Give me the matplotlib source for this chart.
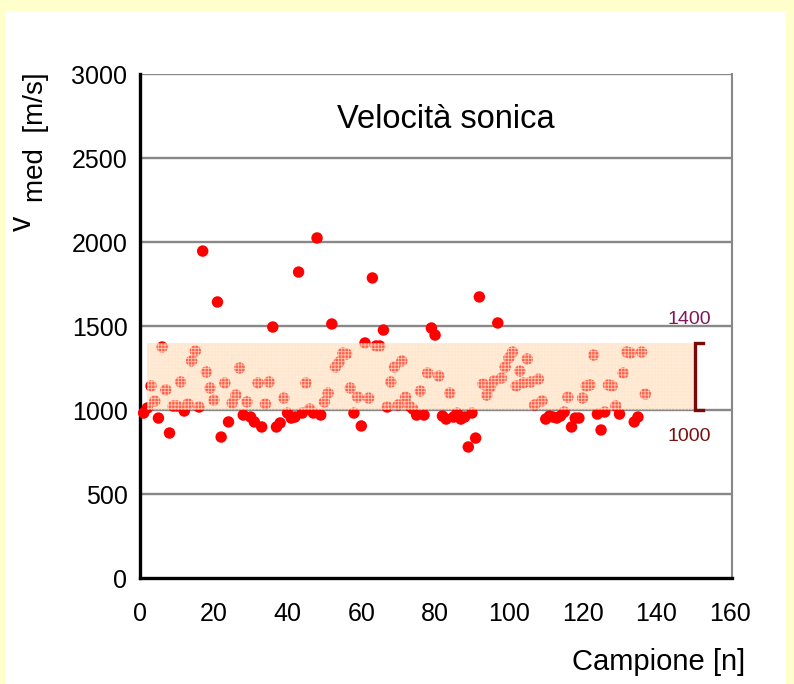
import numpy as np
import matplotlib
matplotlib.use("Agg")
import matplotlib.pyplot as plt
from matplotlib.patches import Rectangle

plt.rcParams.update({
    "font.family": ["Liberation Sans", "DejaVu Sans"],
    "hatch.linewidth": 0.6,
})

# velocita' media per campione [m/s]
campione = np.arange(1, 138)
v_med = [
    982, 1012, 1143, 1053, 952, 1375, 1120, 863, 1024, 1024,
    1167, 994, 1036, 1292, 1351, 1018, 1946, 1226, 1131, 1059,
    1643, 839, 1161, 929, 1042, 1089, 1250, 970, 1048, 958,
    929, 1161, 899, 1036, 1167, 1494, 899, 923, 1071, 982,
    952, 958, 1821, 982, 1161, 1006, 982, 2024, 970, 1048,
    1101, 1512, 1256, 1286, 1339, 1333, 1131, 982, 1077, 905,
    1399, 1071, 1786, 1381, 1381, 1476, 1018, 1167, 1256, 1030,
    1292, 1077, 1024, 1006, 970, 1113, 970, 1220, 1488, 1446,
    1202, 964, 946, 1101, 958, 982, 946, 958, 780, 982,
    833, 1673, 1155, 1089, 1137, 1173, 1518, 1190, 1256, 1310,
    1345, 1143, 1232, 1161, 1304, 1167, 1030, 1184, 1054, 946,
    964, 958, 952, 964, 988, 1077, 899, 952, 952, 1071,
    1143, 1149, 1327, 976, 881, 988, 1149, 1143, 1024, 976,
    1220, 1345, 1339, 929, 958, 1345, 1095,
]

# fascia di riferimento
banda_min, banda_max = 1000, 1400
banda_x0, banda_x1 = 2, 150.4

x_ticks = [0, 20, 40, 60, 80, 100, 120, 140, 160]
y_ticks = [0, 500, 1000, 1500, 2000, 2500, 3000]

fig = plt.figure(figsize=(7.94, 6.84), dpi=100)
fig.patch.set_facecolor("#FFFFCC")
fig.patches.append(Rectangle((5 / 794, 0), 781 / 794, 1 - 11 / 684,
                             transform=fig.transFigure, facecolor="white",
                             edgecolor="none", zorder=-10))

ax = fig.add_axes([140 / 794, 1 - 578 / 684, 592 / 794, 504 / 684])
ax.set_facecolor("white")

for y in y_ticks[1:]:
    ax.axhline(y, color="#888888", lw=1.7, zorder=1)

ax.scatter(campione, v_med, s=68, color="#FF0000", edgecolors="none",
           zorder=3, clip_on=False)

# fascia 1000-1400 sopra i punti, retinata
w = banda_x1 - banda_x0
h = banda_max - banda_min
ax.add_patch(Rectangle((banda_x0, banda_min), w, h, facecolor="#FFD4AA",
                       edgecolor="none", alpha=0.45, zorder=4))
ax.add_patch(Rectangle((banda_x0, banda_min), w, h, facecolor="none",
                       edgecolor="#FFE6CC", hatch="+++++", lw=0,
                       alpha=0.8, zorder=4))

# parentesi della fascia
bx, bt = 150.4, 152.6
ax.plot([bt, bx, bx, bt], [banda_max, banda_max, banda_min, banda_min],
        color="#7A0A0A", lw=2.4, solid_joinstyle="miter", zorder=5,
        clip_on=False)
ax.text(149, 1540, "1400", color="#80185A", fontsize=14,
        ha="center", va="center")
ax.text(149, 840, "1000", color="#7A1010", fontsize=14,
        ha="center", va="center")

ax.text(83, 2732, "Velocità sonica", fontsize=23.5, ha="center", va="center")

ax.set_xlim(0, 160.5)
ax.set_ylim(0, 3000)
ax.set_xticks(x_ticks)
ax.set_yticks(y_ticks)
ax.tick_params(length=0, labelsize=18)
ax.tick_params(axis="x", pad=17)
ax.tick_params(axis="y", pad=9)

ax.spines["left"].set_color("black")
ax.spines["left"].set_linewidth(2.4)
ax.spines["bottom"].set_color("black")
ax.spines["bottom"].set_linewidth(2.4)
ax.spines["right"].set_color("#888888")
ax.spines["right"].set_linewidth(1.5)
ax.spines["top"].set_visible(False)

fig.text(745 / 794, 1 - 662 / 684, "Campione [n]", fontsize=21,
         ha="right", va="center")
# etichetta y: "v" rialzata rispetto a "med [m/s]"
fig.text(31 / 794, 1 - 231 / 684, "v", fontsize=22, rotation=90,
         rotation_mode="anchor", ha="left", va="baseline")
fig.text(43 / 794, 1 - 202 / 684, "med  [m/s]", fontsize=20, rotation=90,
         rotation_mode="anchor", ha="left", va="baseline")

fig.savefig("out.png", dpi=100, facecolor=fig.get_facecolor())
